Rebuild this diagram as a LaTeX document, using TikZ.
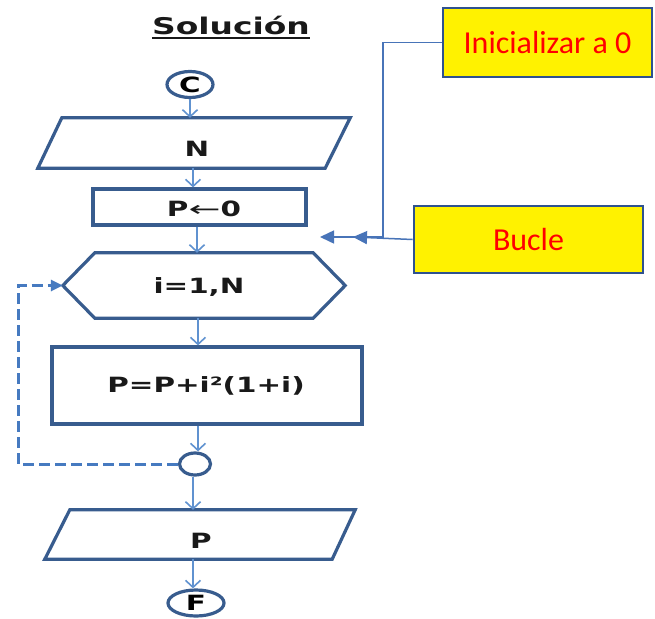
\documentclass[tikz,border=0pt]{standalone}
\usepackage{fontspec}
\usepackage{graphicx}
\usetikzlibrary{arrows.meta,calc,shapes.geometric}
\newfontfamily\flowfont{DejaVu Sans}
\newfontfamily\callfont{Carlito}
\definecolor{shapeblue}{RGB}{56,92,142}
\definecolor{linkblue}{RGB}{96,146,208}
\definecolor{callblue}{RGB}{72,116,184}
\definecolor{callborder}{RGB}{47,82,143}
\definecolor{dashblue}{RGB}{70,122,192}
\definecolor{txtcol}{RGB}{25,25,25}
\newcommand\flowtxt[1]{\scalebox{1.4}[1]{\fontsize{21}{25}\selectfont\flowfont\bfseries #1}}
\begin{document}
\begin{tikzpicture}[x=1pt,y=-1pt,
  outline/.style={draw=shapeblue,line width=3.2pt,line join=miter},
  frame/.style={outline,inner sep=0pt,fill=white},
  holder/.style={inner sep=0pt,draw=none},
  ftxt/.style={inner sep=0pt,text=txtcol},
  flowarr/.style={draw=linkblue,line width=1.6pt,-{Straight Barb[length=7pt,width=15pt,line width=1.6pt]}},
  dashloop/.style={draw=dashblue,line width=3pt,dash pattern=on 11pt off 5pt,-{Triangle[length=12pt,width=11pt]}},
  callout/.style={draw=callborder,line width=2.8pt,fill=yellow,text=red,inner sep=0pt,font=\callfont\fontsize{32}{38}\selectfont},
  callarr/.style={draw=callblue,line width=1.5pt,-{Triangle[length=14pt,width=13pt]}}]
\fill[white] (0,0) rectangle (655,618);
\useasboundingbox (0,0) rectangle (655,618);

% title
\node[ftxt,anchor=base,font=\fontsize{23}{27}\selectfont] (S) at (231,35)
  {\scalebox{1.43}[1]{\flowfont\bfseries Solución}};
\draw[txtcol,line width=2.2pt] ([yshift=-3pt]S.base west) -- ([yshift=-3pt]S.base east);

% flowchart shapes
\node[frame,ellipse,minimum width=46pt,minimum height=26pt] (C) at (190,84.5) {\flowtxt{C}};
\node[holder,minimum width=312pt,minimum height=50pt] (N) at (194,143) {};
\draw[outline] ([xshift=24pt]N.north west) -- (N.north east) -- ([xshift=-25pt]N.south east) -- (N.south west) -- cycle;
\node[ftxt] (Nt) at (197,149) {\flowtxt{N}};

\node[frame,minimum width=213pt,minimum height=36pt] (Pr) at (199.5,207) {};
\node[ftxt] (Prt) at (204,208.5) {\flowtxt{P{\fontsize{21}{25}\selectfont\mdseries\scalebox{1.3}[1]{←}}0}};

\node[holder,minimum width=282pt,minimum height=65pt] (H) at (204,285.5) {};
\draw[outline] ([xshift=32pt]H.north west) -- ([xshift=-32pt]H.north east) -- (H.east) -- ([xshift=-32pt]H.south east) -- ([xshift=32pt]H.south west) -- (H.west) -- cycle;
\node[ftxt] (Ht) at (199,287) {\flowtxt{i=1,N}};

\node[frame,minimum width=310pt,minimum height=77pt] (R) at (207,385.5) {};
\node[ftxt] (Rt) at (206,386) {\flowtxt{P=P+i²(1+i)}};

\node[frame,ellipse,minimum width=31pt,minimum height=22pt] (L) at (195,464) {};

\node[holder,minimum width=310pt,minimum height=49pt] (Po) at (200,534.5) {};
\draw[outline] ([xshift=25pt]Po.north west) -- (Po.north east) -- ([xshift=-23pt]Po.south east) -- (Po.south west) -- cycle;
\node[ftxt] (Pot) at (201,540.5) {\flowtxt{P}};

\node[frame,ellipse,minimum width=56pt,minimum height=26pt] (F) at (196,603) {\flowtxt{F}};

% flow arrows
\draw[flowarr] (C.south) -- (C.south |- N.north);
\draw[flowarr] ([xshift=-1pt]N.south) -- ([xshift=-1pt]N.south |- Pr.north);
\draw[flowarr] ([xshift=-2.5pt]Pr.south) -- ([xshift=-2.5pt]Pr.south |- H.north);
\draw[flowarr] ([xshift=-6pt]H.south) -- ([xshift=-6pt]H.south |- R.north);
\draw[flowarr] ([xshift=-9pt]R.south) -- ([xshift=-9pt]R.south |- L.north);
\draw[flowarr] ([xshift=-2pt]L.south) -- ([xshift=-2pt]L.south |- Po.north);
\draw[flowarr] ([xshift=-7pt]Po.south) -- ([xshift=-7pt]Po.south |- F.north);

% loop back
\coordinate (lp) at (18,464);
\draw[dashloop] (L.west) -- (lp) |- (H.west);

% callouts
\node[callout,minimum width=209pt,minimum height=69pt] (I) at (547.5,42.5) {Inicializar a 0};
\node[callout,minimum width=229pt,minimum height=67pt] (B) at (528.5,239.5) {Bucle};
\coordinate (j) at (383,237);
\coordinate (t1) at (320,237);
\coordinate (t2) at (353,237);
\draw[callarr] (I.west) -| (j) -- (t1);
\draw[callarr] (B.west) -- (t2);
\end{tikzpicture}
\end{document}
